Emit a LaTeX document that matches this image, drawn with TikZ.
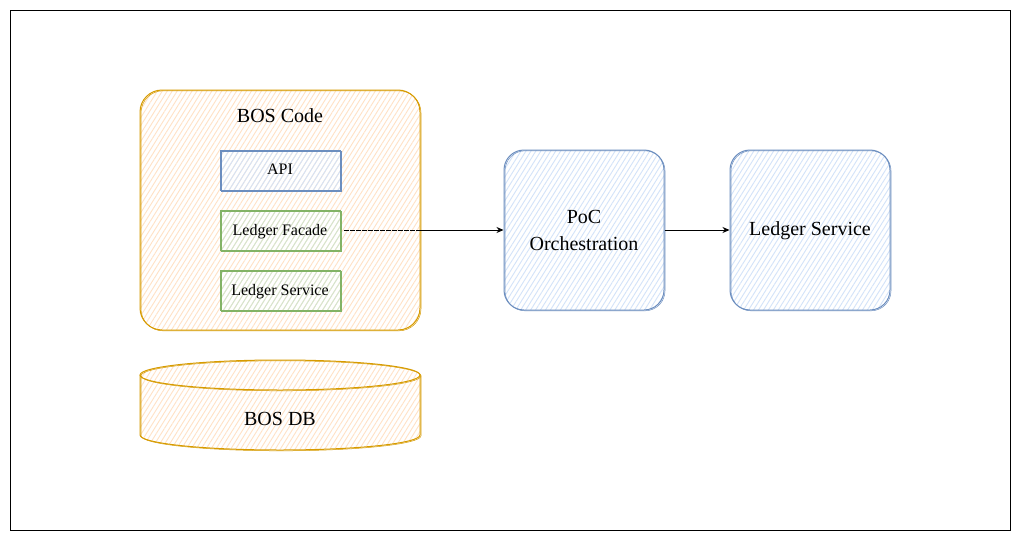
\documentclass[tikz,border=0pt]{standalone}
\usepackage{fontspec}
\setmainfont{Liberation Serif}
\usetikzlibrary{arrows.meta,patterns.meta}
\definecolor{ostroke}{HTML}{D79B00}
\definecolor{ohatch}{HTML}{FFE2C6}
\definecolor{bstroke}{HTML}{6C8EBF}
\definecolor{bhatch}{HTML}{D3E3F9}
\definecolor{gstroke}{HTML}{82B366}
\definecolor{ghatch}{HTML}{D2E6D0}
\tikzset{
  hatch/.style={pattern={Lines[angle=58,distance=4.2pt,line width=0.9pt]},pattern color=#1},
  sketch/.style={draw=#1, line width=1pt,
    postaction={draw=#1, line width=0.5pt, transform canvas={shift={(1pt,-0.8pt)}}}},
  bigbox/.style={rounded corners=22pt, inner sep=0pt},
  smallbox/.style={inner sep=0pt, minimum width=120pt, minimum height=40pt,
    font=\fontsize{16}{19}\selectfont, text depth=1pt},
  bigtext/.style={font=\fontsize{20}{26}\selectfont, align=center},
  conn/.style={line width=0.9pt, -{Stealth[length=7pt,width=6pt]}},
}
\begin{document}
\begin{tikzpicture}[x=1pt,y=-1pt]
\useasboundingbox (0,0) rectangle (1021,541);
\fill[white] (0,0) rectangle (1021,541);
\draw[line width=0.8pt] (10.5,10.5) rectangle (1010.5,530.5);

% BOS Code container
\node[bigbox, sketch=ostroke, hatch=ohatch, minimum width=280pt, minimum height=240pt] (bos) at (280,210) {};
\node[bigtext] (bostitle) at (280,116) {BOS Code};

\node[smallbox, sketch=bstroke, hatch=bhatch] (api) at (280,170) {API};
\node[smallbox, sketch=gstroke, hatch=ghatch] (lf) at (280,230) {Ledger Facade};
\node[smallbox, sketch=gstroke, hatch=ghatch] (ls) at (280,290) {Ledger Service};

% BOS DB cylinder
\path[hatch=ohatch] (140,375) -- (140,435) arc[start angle=180,end angle=0,x radius=140,y radius=15] -- (420,375) arc[start angle=0,end angle=-180,x radius=140,y radius=15] -- cycle;
\draw[sketch=ostroke] (140,375) -- (140,435) arc[start angle=180,end angle=0,x radius=140,y radius=15] -- (420,375);
\draw[sketch=ostroke] (280,375) ellipse[x radius=140,y radius=15];
\node[bigtext] (db) at (280,419) {BOS DB};

% PoC Orchestration
\node[bigbox, rounded corners=20pt, sketch=bstroke, hatch=bhatch, minimum width=160pt, minimum height=160pt, bigtext] (poc) at (584,230) {PoC\\[1pt]Orchestration};

% Ledger Service (right)
\node[bigbox, rounded corners=20pt, sketch=bstroke, hatch=bhatch, minimum width=160pt, minimum height=160pt, bigtext, text depth=2pt] (lsr) at (810,230) {Ledger Service};

% connectors
\coordinate (m) at (lf.east -| bos.east);
\draw[line width=0.8pt, dash pattern=on 5pt off 1pt, shorten <=3pt] (lf.east) -- (m);
\draw[conn] (m) -- (poc.west);
\draw[conn] (poc.east) -- (lsr.west);
\end{tikzpicture}
\end{document}
